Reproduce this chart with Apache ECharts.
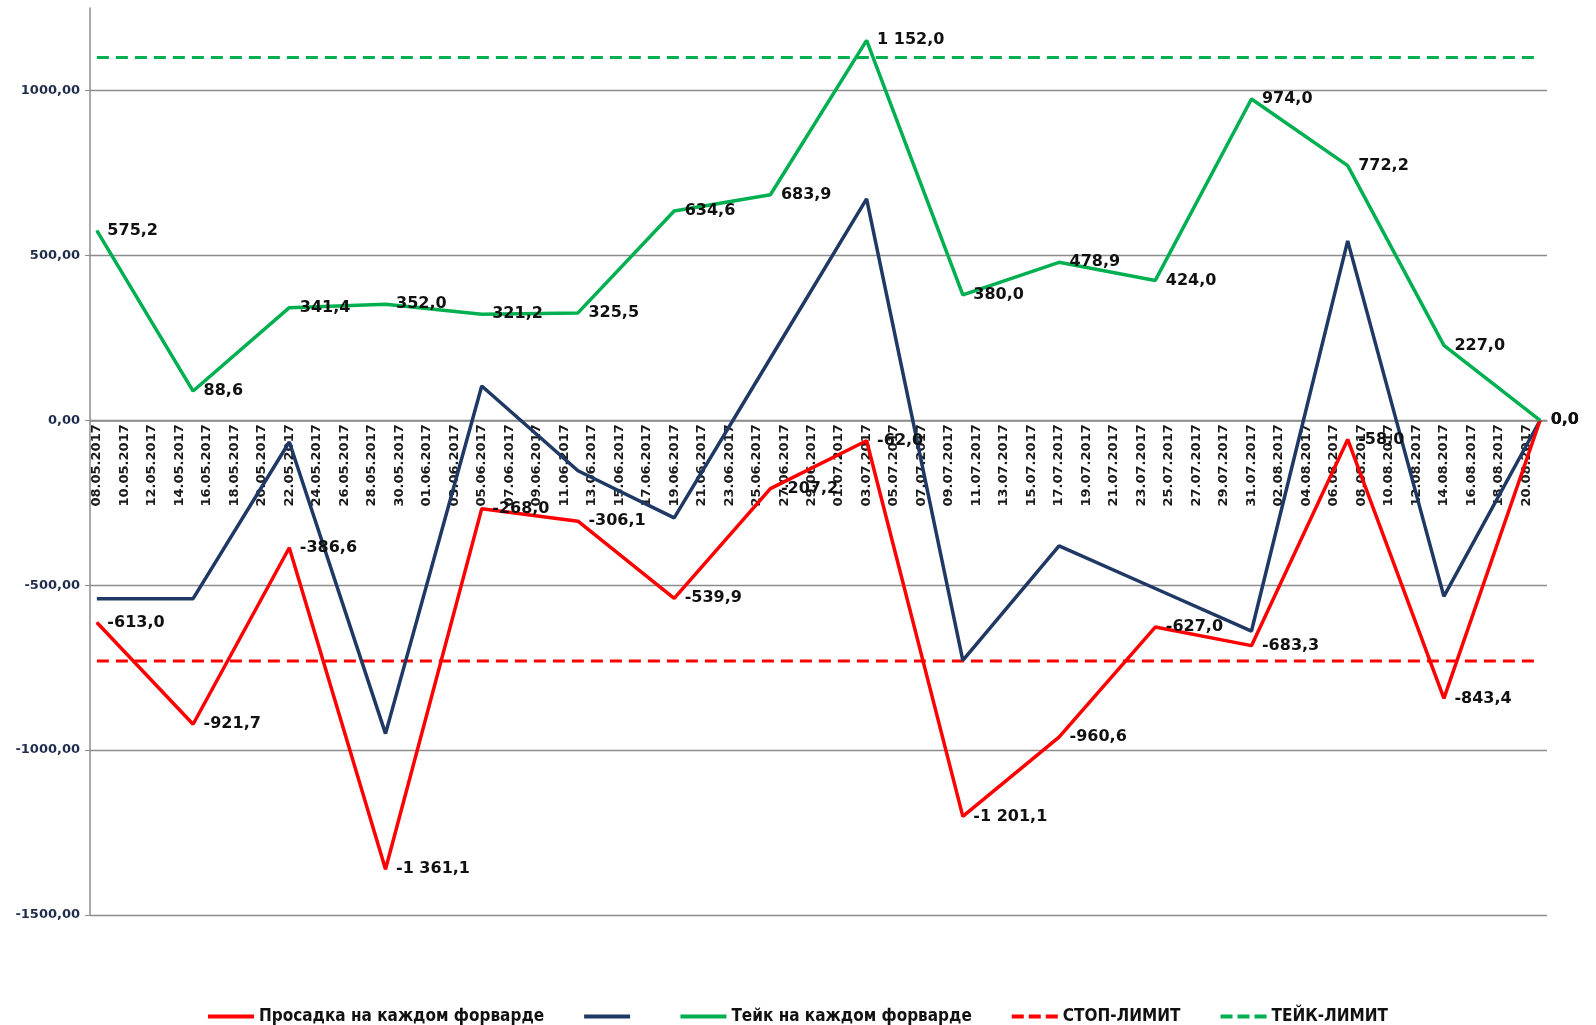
<!DOCTYPE html>
<html>
<head>
<meta charset="utf-8">
<title>Просадка и тейк на каждом форварде</title>
<script src="https://cdn.jsdelivr.net/npm/echarts@6/dist/echarts.min.js"></script>
<style>
  html, body { margin: 0; padding: 0; background: #fff; }
  #chart { width: 1596px; height: 1025px; }
</style>
</head>
<body>
<div id="chart"></div>
<script>
// даты форвардов (раз в неделю)
var forwardDates = ['08.05.2017', '15.05.2017', '22.05.2017', '29.05.2017', '05.06.2017', '12.06.2017', '19.06.2017', '26.06.2017',
  '03.07.2017', '10.07.2017', '17.07.2017', '24.07.2017', '31.07.2017', '07.08.2017', '14.08.2017', '21.08.2017'];
var drawdown = [-613.0, -921.7, -386.6, -1361.1, -268.0, -306.1, -539.9, -207.2, -62.0, -1201.1, -960.6, -627.0, -683.3, -58.0, -843.4, 0.0];
var navyLine = [-541, -541, -66, -950, 104, -153, -296, 188, 671, -728, -381, -510, -639, 544, -534, 0];
var take = [575.2, 88.6, 341.4, 352.0, 321.2, 325.5, 634.6, 683.9, 1152.0, 380.0, 478.9, 424.0, 974.0, 772.2, 227.0, 0.0];
var stopLimit = -730;
var takeLimit = 1100;
var yMin = -1500;
var yMax = 1250;
var yStep = 500;

var gridTop = 8;
var gridBottom = 110;
var gridHeight = 1025 - gridTop - gridBottom;

// ось дат по дням
function pad (n) { return (n < 10 ? '0' : '') + n; }
function parseDay (s) {
  var p = s.split('.');
  return new Date(Date.UTC(+p[2], +p[1] - 1, +p[0]));
}
var axisDays = [];
var day = parseDay(forwardDates[0]);
var lastDay = parseDay(forwardDates[forwardDates.length - 1]);
while (day <= lastDay) {
  axisDays.push(pad(day.getUTCDate()) + '.' + pad(day.getUTCMonth() + 1) + '.' + day.getUTCFullYear());
  day.setUTCDate(day.getUTCDate() + 1);
}

function fmtLabel (v) {
  var s = Math.abs(v).toFixed(1).split('.');
  var int = s[0].replace(/\B(?=(\d{3})+(?!\d))/g, ' ');
  return (v < 0 ? '-' : '') + int + ',' + s[1];
}
function pairs (values) {
  return forwardDates.map(function (d, i) { return [d, values[i]]; });
}
function flat (v) {
  return forwardDates.map(function (d) { return [d, v]; });
}

var dataLabel = {
  show: true,
  position: 'right',
  distance: 10,
  fontSize: 16,
  fontWeight: 'bold',
  fontFamily: 'DejaVu Sans',
  color: '#111',
  formatter: function (p) { return fmtLabel(p.value[1]); }
};

var solidIcon = 'path://M0,0h46v4h-46z';
var dashIcon = 'path://M0,0h12v4h-12z M17,0h12v4h-12z M34,0h12v4h-12z';

var option = {
  animation: false,
  grid: { left: 90, right: 49, top: gridTop, bottom: gridBottom, containLabel: false },
  legend: {
    left: 'center',
    top: 1003,
    itemWidth: 46,
    itemHeight: 4,
    itemGap: 40,
    textStyle: {
      fontSize: 17,
      fontWeight: 'bold',
      fontFamily: 'Liberation Sans Narrow, DejaVu Sans Condensed, sans-serif',
      color: '#111'
    },
    data: [
      { name: 'Просадка на каждом форварде', icon: solidIcon },
      { name: ' ', icon: solidIcon },
      { name: 'Тейк на каждом форварде', icon: solidIcon },
      { name: 'СТОП-ЛИМИТ', icon: dashIcon },
      { name: 'ТЕЙК-ЛИМИТ', icon: dashIcon }
    ]
  },
  xAxis: {
    type: 'category',
    data: axisDays,
    boundaryGap: true,
    // подпись дат прямо под нулевой линией
    offset: -gridHeight * (0 - yMin) / (yMax - yMin),
    axisLine: { onZero: false, lineStyle: { color: '#8c8c8c', width: 1.5 } },
    axisTick: { interval: 1, alignWithLabel: true, length: 5, lineStyle: { color: '#8c8c8c' } },
    axisLabel: {
      interval: 1,
      rotate: 90,
      margin: 4,
      fontSize: 13,
      fontWeight: 'bold',
      fontFamily: 'DejaVu Sans',
      color: '#1a1a1a'
    },
    splitLine: { show: false }
  },
  yAxis: {
    type: 'value',
    min: yMin,
    max: yMax,
    interval: yStep,
    axisLine: { show: true, lineStyle: { color: '#8c8c8c', width: 1.5 } },
    axisTick: { show: true, length: 5, lineStyle: { color: '#8c8c8c' } },
    axisLabel: {
      showMaxLabel: false,
      margin: 10,
      fontSize: 13,
      fontWeight: 'bold',
      fontFamily: 'DejaVu Sans',
      color: '#1f2d4d',
      formatter: function (v) { return v.toFixed(2).replace('.', ','); }
    },
    splitLine: { show: true, showMaxLine: false, lineStyle: { color: '#8c8c8c', width: 1.3 } }
  },
  series: [
    {
      name: 'Просадка на каждом форварде',
      type: 'line',
      data: pairs(drawdown),
      symbol: 'circle',
      symbolSize: 1,
      lineStyle: { color: '#ff0000', width: 3.5 },
      itemStyle: { color: '#ff0000' },
      label: dataLabel,
      z: 4
    },
    {
      name: ' ',
      type: 'line',
      data: pairs(navyLine),
      symbol: 'none',
      lineStyle: { color: '#1f3864', width: 3.5 },
      itemStyle: { color: '#1f3864' },
      z: 3
    },
    {
      name: 'Тейк на каждом форварде',
      type: 'line',
      data: pairs(take),
      symbol: 'circle',
      symbolSize: 1,
      lineStyle: { color: '#00b050', width: 3.5 },
      itemStyle: { color: '#00b050' },
      label: dataLabel,
      z: 4
    },
    {
      name: 'СТОП-ЛИМИТ',
      type: 'line',
      data: flat(stopLimit),
      symbol: 'none',
      lineStyle: { color: '#ff0000', width: 3, type: [12, 7] },
      itemStyle: { color: '#ff0000' },
      z: 2
    },
    {
      name: 'ТЕЙК-ЛИМИТ',
      type: 'line',
      data: flat(takeLimit),
      symbol: 'none',
      lineStyle: { color: '#00b050', width: 3, type: [12, 7] },
      itemStyle: { color: '#00b050' },
      z: 2
    }
  ]
};

var chart = echarts.init(document.getElementById('chart'));
chart.setOption(option);
</script>
</body>
</html>
